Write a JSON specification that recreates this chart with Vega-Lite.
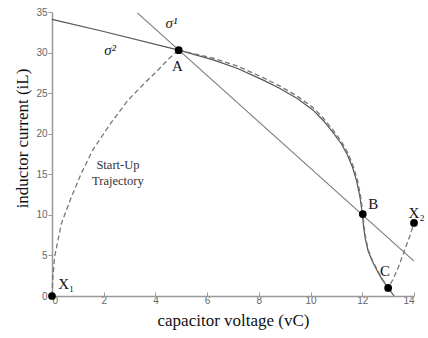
{
  "$schema": "https://vega.github.io/schema/vega-lite/v6.json",
  "autosize": {"type": "none"},
  "padding": {"left": 52, "top": 12, "right": 14, "bottom": 42},
  "width": 362,
  "height": 284,
  "background": "white",
  "config": {"view": {"stroke": null}},
  "datasets": {
    "sigma1": [{"v": 3.3, "i": 34.9, "o": 0}, {"v": 14.0, "i": 4.3, "o": 1}],
    "sigma2": [
      {"v": 0, "i": 34.1, "o": 0}, {"v": 2, "i": 32.6, "o": 1}, {"v": 4.9, "i": 30.3, "o": 2},
      {"v": 6.24, "i": 29.1, "o": 3}, {"v": 7.2, "i": 28.0, "o": 4}, {"v": 8.17, "i": 26.6, "o": 5},
      {"v": 8.8, "i": 25.6, "o": 6}, {"v": 9.5, "i": 24.3, "o": 7}, {"v": 10.1, "i": 22.9, "o": 8},
      {"v": 10.5, "i": 21.6, "o": 9}, {"v": 10.88, "i": 20.1, "o": 10}, {"v": 11.2, "i": 18.7, "o": 11},
      {"v": 11.42, "i": 17.4, "o": 12}, {"v": 11.62, "i": 15.9, "o": 13}, {"v": 11.78, "i": 14.2, "o": 14},
      {"v": 11.91, "i": 12.2, "o": 15}, {"v": 12.0, "i": 10.2, "o": 16}, {"v": 12.05, "i": 8.5, "o": 17},
      {"v": 12.12, "i": 7.0, "o": 18}, {"v": 12.22, "i": 5.6, "o": 19}, {"v": 12.37, "i": 4.4, "o": 20},
      {"v": 12.53, "i": 3.4, "o": 21}, {"v": 12.75, "i": 2.1, "o": 22}, {"v": 13.0, "i": 1.0, "o": 23},
      {"v": 13.23, "i": 0.0, "o": 24}
    ],
    "traj": [
      {"seg": "startup", "v": 0, "i": 0, "o": 0}, {"seg": "startup", "v": 0.03, "i": 2, "o": 1},
      {"seg": "startup", "v": 0.1, "i": 4.8, "o": 2}, {"seg": "startup", "v": 0.36, "i": 8.9, "o": 3},
      {"seg": "startup", "v": 0.75, "i": 12.2, "o": 4}, {"seg": "startup", "v": 1.13, "i": 15.1, "o": 5},
      {"seg": "startup", "v": 1.58, "i": 18.0, "o": 6}, {"seg": "startup", "v": 2.23, "i": 21.1, "o": 7},
      {"seg": "startup", "v": 2.93, "i": 24.1, "o": 8}, {"seg": "startup", "v": 3.6, "i": 26.3, "o": 9},
      {"seg": "startup", "v": 4.03, "i": 27.6, "o": 10}, {"seg": "startup", "v": 4.5, "i": 29.2, "o": 11},
      {"seg": "startup", "v": 4.9, "i": 30.3, "o": 12},
      {"seg": "main", "v": 4.9, "i": 30.3, "o": 0}, {"seg": "main", "v": 6.24, "i": 29.3, "o": 1},
      {"seg": "main", "v": 7.2, "i": 28.3, "o": 2}, {"seg": "main", "v": 8.17, "i": 26.9, "o": 3},
      {"seg": "main", "v": 8.8, "i": 25.9, "o": 4}, {"seg": "main", "v": 9.5, "i": 24.6, "o": 5},
      {"seg": "main", "v": 10.1, "i": 23.2, "o": 6}, {"seg": "main", "v": 10.5, "i": 21.9, "o": 7},
      {"seg": "main", "v": 10.88, "i": 20.4, "o": 8}, {"seg": "main", "v": 11.2, "i": 19.0, "o": 9},
      {"seg": "main", "v": 11.45, "i": 17.6, "o": 10}, {"seg": "main", "v": 11.66, "i": 15.9, "o": 11},
      {"seg": "main", "v": 11.82, "i": 14.2, "o": 12}, {"seg": "main", "v": 11.94, "i": 12.2, "o": 13},
      {"seg": "main", "v": 12.02, "i": 10.2, "o": 14}, {"seg": "main", "v": 12.07, "i": 8.5, "o": 15},
      {"seg": "main", "v": 12.14, "i": 7.0, "o": 16}, {"seg": "main", "v": 12.24, "i": 5.6, "o": 17},
      {"seg": "main", "v": 12.39, "i": 4.4, "o": 18}, {"seg": "main", "v": 12.55, "i": 3.4, "o": 19},
      {"seg": "main", "v": 12.77, "i": 2.1, "o": 20}, {"seg": "main", "v": 13.0, "i": 1.0, "o": 21},
      {"seg": "main", "v": 13.18, "i": 2.0, "o": 22}, {"seg": "main", "v": 13.4, "i": 3.6, "o": 23},
      {"seg": "main", "v": 13.68, "i": 6.0, "o": 24}, {"seg": "main", "v": 13.85, "i": 7.5, "o": 25},
      {"seg": "main", "v": 14.0, "i": 9.0, "o": 26}
    ],
    "pts": [
      {"name": "X1", "v": 0, "i": 0}, {"name": "A", "v": 4.9, "i": 30.3},
      {"name": "B", "v": 12.02, "i": 10.1}, {"name": "C", "v": 13.0, "i": 1.0},
      {"name": "X2", "v": 14.0, "i": 9.0}
    ],
    "labels": [
      {"t": "A", "v": 4.85, "i": 28.4}, {"t": "B", "v": 12.42, "i": 11.3},
      {"t": "C", "v": 12.88, "i": 3.1}, {"t": "X₁", "v": 0.55, "i": 1.5},
      {"t": "X₂", "v": 14.1, "i": 10.2}
    ],
    "sig": [{"t": "σ¹", "v": 4.62, "i": 33.6}, {"t": "σ²", "v": 2.25, "i": 30.3}],
    "note": [{"t": "Start-Up", "v": 2.55, "i": 16.2}, {"t": "Trajectory", "v": 2.55, "i": 14.2}]
  },
  "encoding": {
    "x": {
      "field": "v", "type": "quantitative",
      "scale": {"domain": [0, 14], "nice": false, "zero": false},
      "axis": {
        "title": "capacitor voltage (vC)", "values": [0, 2, 4, 6, 8, 10, 12, 14],
        "grid": false, "domainColor": "#999", "domainWidth": 1.5, "tickColor": "#999",
        "tickSize": -4, "labelPadding": 3, "labelColor": "#666", "labelFont": "Liberation Sans",
        "labelFontSize": 10, "titleFont": "Liberation Serif", "titleFontSize": 17,
        "titleFontWeight": "normal", "titleColor": "#111", "titlePadding": 7
      }
    },
    "y": {
      "field": "i", "type": "quantitative",
      "scale": {"domain": [0, 35], "nice": false},
      "axis": {
        "title": "inductor current (iL)", "values": [0, 5, 10, 15, 20, 25, 30, 35],
        "grid": false, "domainColor": "#999", "domainWidth": 1.5, "tickColor": "#999",
        "tickSize": 4, "labelPadding": 1, "labelColor": "#666", "labelFont": "Liberation Sans",
        "labelFontSize": 10, "titleFont": "Liberation Serif", "titleFontSize": 17,
        "titleFontWeight": "normal", "titleColor": "#111", "titlePadding": 4, "titleY": 126
      }
    }
  },
  "layer": [
    {
      "data": {"name": "sigma1"},
      "mark": {"type": "line", "color": "#7a7a7a", "strokeWidth": 1.1},
      "encoding": {"order": {"field": "o"}}
    },
    {
      "data": {"name": "sigma2"},
      "mark": {"type": "line", "color": "#555", "strokeWidth": 1.2},
      "encoding": {"order": {"field": "o"}}
    },
    {
      "data": {"name": "traj"},
      "mark": {"type": "line", "color": "#777", "strokeWidth": 1.3, "strokeDash": [5, 3]},
      "encoding": {"detail": {"field": "seg"}, "order": {"field": "o"}}
    },
    {
      "data": {"name": "pts"},
      "mark": {"type": "point", "filled": true, "color": "black", "size": 60, "opacity": 1, "clip": false}
    },
    {
      "data": {"name": "labels"},
      "mark": {"type": "text", "font": "Liberation Serif", "fontSize": 15, "color": "#111", "align": "center", "baseline": "middle", "clip": false},
      "encoding": {"text": {"field": "t"}}
    },
    {
      "data": {"name": "sig"},
      "mark": {"type": "text", "font": "Liberation Serif", "fontStyle": "italic", "fontSize": 15, "color": "#222", "align": "center", "baseline": "middle"},
      "encoding": {"text": {"field": "t"}}
    },
    {
      "data": {"name": "note"},
      "mark": {"type": "text", "font": "Liberation Serif", "fontSize": 12.5, "color": "#333", "align": "center", "baseline": "middle"},
      "encoding": {"text": {"field": "t"}}
    }
  ]
}
